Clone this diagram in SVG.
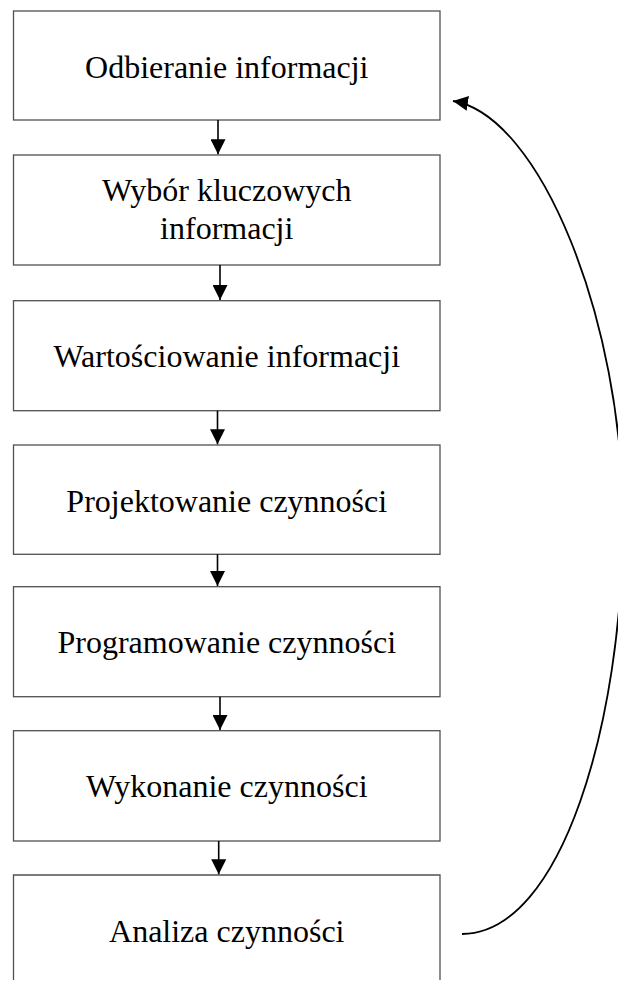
<svg xmlns="http://www.w3.org/2000/svg" width="618" height="982" viewBox="0 0 618 982">
  <style>
    .box { fill: #ffffff; stroke: #505050; stroke-width: 1.3; }
    .label { font-family: "Liberation Serif", "Times New Roman", serif; font-size: 32px; fill: #000000; text-anchor: middle; }
    .link { fill: none; stroke: #000000; stroke-width: 1.6; }
    .loop { fill: none; stroke: #000000; stroke-width: 1.8; }
  </style>
  <defs>
    <marker id="arrow" markerUnits="userSpaceOnUse" markerWidth="15" markerHeight="15" viewBox="0 0 15 15" refX="15" refY="7.5" orient="auto">
      <path d="M0,0 L15,7.5 L0,15 Z" fill="#000000"/>
    </marker>
  </defs>

  <rect width="618" height="982" fill="#ffffff"/>

  <g id="node-odbieranie">
    <rect class="box" x="13.5" y="11" width="426.5" height="109"/>
    <text class="label" x="226.75" y="78.3">Odbieranie informacji</text>
  </g>

  <g id="node-wybor">
    <rect class="box" x="13.5" y="155" width="426.5" height="110"/>
    <text class="label" x="226.75" y="201">Wybór kluczowych</text>
    <text class="label" x="226.75" y="239.3">informacji</text>
  </g>

  <g id="node-wartosciowanie">
    <rect class="box" x="13.5" y="300.7" width="426.5" height="110"/>
    <text class="label" x="226.75" y="366.7">Wartościowanie informacji</text>
  </g>

  <g id="node-projektowanie">
    <rect class="box" x="13.5" y="445" width="426.5" height="109.3"/>
    <text class="label" x="226.75" y="511.7">Projektowanie czynności</text>
  </g>

  <g id="node-programowanie">
    <rect class="box" x="13.5" y="586.7" width="426.5" height="110"/>
    <text class="label" x="226.75" y="653.3">Programowanie czynności</text>
  </g>

  <g id="node-wykonanie">
    <rect class="box" x="13.5" y="730.7" width="426.5" height="110.3"/>
    <text class="label" x="226.75" y="796.7">Wykonanie czynności</text>
  </g>

  <g id="node-analiza">
    <!-- last step runs off the bottom edge, so only its top and sides show -->
    <path class="box" d="M13.5,980 V875 H440 V980"/>
    <text class="label" x="226.75" y="941.7">Analiza czynności</text>
  </g>

  <g id="connectors">
    <line class="link" x1="218" y1="120" x2="218" y2="154.3" marker-end="url(#arrow)"/>
    <line class="link" x1="220" y1="265" x2="220" y2="300" marker-end="url(#arrow)"/>
    <line class="link" x1="217.5" y1="410.7" x2="217.5" y2="444.3" marker-end="url(#arrow)"/>
    <line class="link" x1="217.5" y1="554.3" x2="217.5" y2="586" marker-end="url(#arrow)"/>
    <line class="link" x1="220" y1="696.7" x2="220" y2="730" marker-end="url(#arrow)"/>
    <line class="link" x1="218.7" y1="841" x2="218.7" y2="874.3" marker-end="url(#arrow)"/>
    <!-- feedback loop from the last step back to the first -->
    <path class="loop" d="M462,934 C562,934 623,720 623,520 C623,320 540,115 453,101" marker-end="url(#arrow)"/>
  </g>
</svg>
